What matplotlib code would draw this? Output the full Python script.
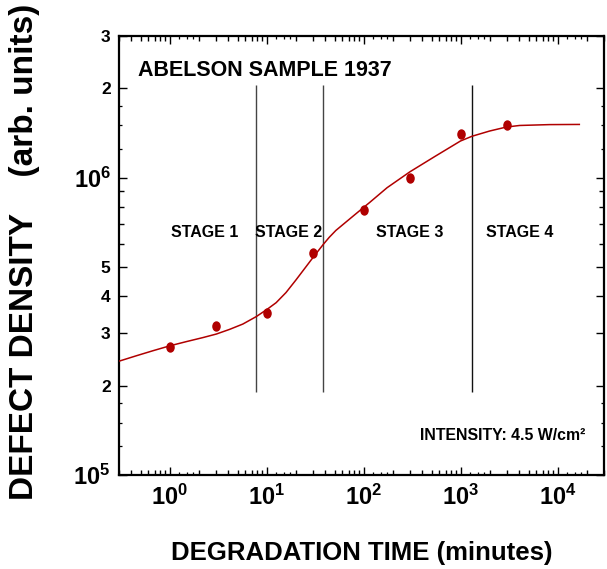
import numpy as np
import matplotlib
matplotlib.use("Agg")
import matplotlib.pyplot as plt
from matplotlib.path import Path
from matplotlib.transforms import Affine2D
from matplotlib.ticker import FixedLocator, FixedFormatter, NullLocator, NullFormatter

# ---- data ----
time_min = [1, 3, 10, 30, 100, 300, 1000, 3000]
density = [2.70e5, 3.16e5, 3.50e5, 5.60e5, 7.79e5, 1.00e6, 1.40e6, 1.50e6]

fit_time = [0.306, 0.455, 0.674, 1.0, 1.48, 2.20, 3.02, 4.14, 5.67, 7.78, 10.1, 12.5,
            15.8, 20.0, 25.4, 29.7, 38.3, 44.0, 51.6, 76.5, 99.3, 113.6, 174, 300, 542,
            995, 1310, 1990, 2960, 4050, 8240, 16700]
fit_density = [2.42e5, 2.52e5, 2.62e5, 2.72e5, 2.81e5, 2.90e5, 2.98e5, 3.09e5, 3.22e5,
               3.41e5, 3.61e5, 3.80e5, 4.11e5, 4.53e5, 5.02e5, 5.37e5, 5.97e5, 6.30e5,
               6.65e5, 7.40e5, 7.94e5, 8.23e5, 9.26e5, 1.048e6, 1.18e6, 1.33e6,
               1.38e6, 1.437e6, 1.482e6, 1.50e6, 1.51e6, 1.512e6]

stage_bounds = [7.8, 38, 1310]
stage_line_range = [1.9e5, 2.05e6]
stage_names = ["STAGE 1", "STAGE 2", "STAGE 3", "STAGE 4"]

x_major = [1e0, 1e1, 1e2, 1e3, 1e4]
x_major_labels = ["$10^0$", "$10^1$", "$10^2$", "$10^3$", "$10^4$"]
y_major = [1e5, 2e5, 3e5, 4e5, 5e5, 1e6, 2e6, 3e6]
y_major_labels = ["$10^5$", "2", "3", "4", "5", "$10^6$", "2", "3"]

title_text = "ABELSON SAMPLE 1937"
intensity_text = "INTENSITY: 4.5 W/cm\u00b2"
xlabel_text = "DEGRADATION TIME (minutes)"
ylabel_text = "DEFECT DENSITY    (arb. units)"

# ---- style ----
REG = ["Liberation Sans", "DejaVu Sans"]
plt.rcParams["mathtext.fontset"] = "custom"
plt.rcParams["mathtext.rm"] = "Liberation Sans:bold"
plt.rcParams["mathtext.it"] = "Liberation Sans:bold"
plt.rcParams["mathtext.bf"] = "Liberation Sans:bold"
plt.rcParams["font.family"] = REG

RED = "#b00000"

fig = plt.figure(figsize=(6.07, 5.69), dpi=100)
ax = fig.add_axes([119 / 607, 1 - 475 / 569, 485 / 607, 439 / 569])
ax.set_xscale("log")
ax.set_yscale("log")
ax.set_xlim(0.3, 3e4)
ax.set_ylim(1e5, 3e6)

# fitted curve and measured points
ax.plot(fit_time, fit_density, color=RED, lw=1.1, zorder=3, solid_joinstyle="round")
ell = Path.unit_circle().transformed(Affine2D().scale(1.0, 1.22))
ax.plot(time_min, density, linestyle="none", marker=ell, markersize=7.5,
        color=RED, markeredgewidth=0, zorder=4)

# stage boundaries
ax.vlines(stage_bounds, stage_line_range[0], stage_line_range[1],
          colors=["#444444", "#444444", "#111111"], lw=1.0, zorder=2)

# ticks
for s in ax.spines.values():
    s.set_linewidth(1.6)
ax.xaxis.set_major_locator(FixedLocator(x_major))
ax.xaxis.set_major_formatter(FixedFormatter(x_major_labels))
ax.xaxis.set_minor_locator(FixedLocator([m * 10.0 ** k for k in range(-1, 5) for m in range(2, 10)]))
ax.xaxis.set_minor_formatter(NullFormatter())
ax.yaxis.set_major_locator(FixedLocator(y_major))
ax.yaxis.set_major_formatter(FixedFormatter(y_major_labels))
ax.yaxis.set_minor_locator(FixedLocator([m * 10.0 ** k for k in (5, 6) for m in range(2, 10)]))
ax.yaxis.set_minor_formatter(NullFormatter())
ax.tick_params(which="both", direction="in", top=True, right=True, width=1.0)
ax.tick_params(which="major", length=5.5)
ax.tick_params(which="minor", length=3.8)
ax.tick_params(axis="x", which="major", pad=7)
ax.tick_params(axis="y", which="major", pad=6)

for lab in ax.get_xticklabels():
    lab.set_fontsize(17)
for t, txt in zip(ax.yaxis.get_major_ticks(), y_major_labels):
    if txt.startswith("$"):
        t.label1.set_fontsize(17)
    else:
        t.label1.set_fontsize(12.5)
        t.label1.set_fontweight("bold")

# tiny extra ticks at 1.25, 1.5, 1.75 of each decade
tiny_x = [m * 10.0 ** k for k in range(-1, 5) for m in (1.25, 1.5, 1.75)]
tiny_y = [m * 10.0 ** k for k in (5, 6) for m in (1.25, 1.5, 1.75)]
for loc in ("bottom", "top"):
    sx = ax.secondary_xaxis(loc)
    sx.xaxis.set_major_locator(FixedLocator(tiny_x))
    sx.xaxis.set_minor_locator(NullLocator())
    sx.tick_params(direction="in", length=2.2, width=0.9, labelbottom=False, labeltop=False)
    for s in sx.spines.values():
        s.set_visible(False)
for loc in ("left", "right"):
    sy = ax.secondary_yaxis(loc)
    sy.yaxis.set_major_locator(FixedLocator(tiny_y))
    sy.yaxis.set_minor_locator(NullLocator())
    sy.tick_params(direction="in", length=2.2, width=0.9, labelleft=False, labelright=False)
    for s in sy.spines.values():
        s.set_visible(False)

# texts
ax.text(0.039, 0.922, title_text, transform=ax.transAxes, ha="left", va="center",
        fontsize=15.5, fontweight="bold")
for xc, name in zip([0.177, 0.350, 0.599, 0.827], stage_names):
    ax.text(xc, 0.5535, name, transform=ax.transAxes, ha="center", va="center",
            fontsize=11.5, fontweight="bold")
ax.text(0.961, 0.091, intensity_text, transform=ax.transAxes, ha="right", va="center",
        fontsize=11.4, fontweight="bold")

ax.set_xlabel(xlabel_text, fontsize=18.5, fontweight="bold", va="baseline")
ax.xaxis.set_label_coords(0.5, -0.1936)
ax.set_ylabel(ylabel_text, fontsize=24, fontweight="bold")
ax.yaxis.set_label_coords(-0.163, 0.509)

fig.savefig("out.png", dpi=100)
